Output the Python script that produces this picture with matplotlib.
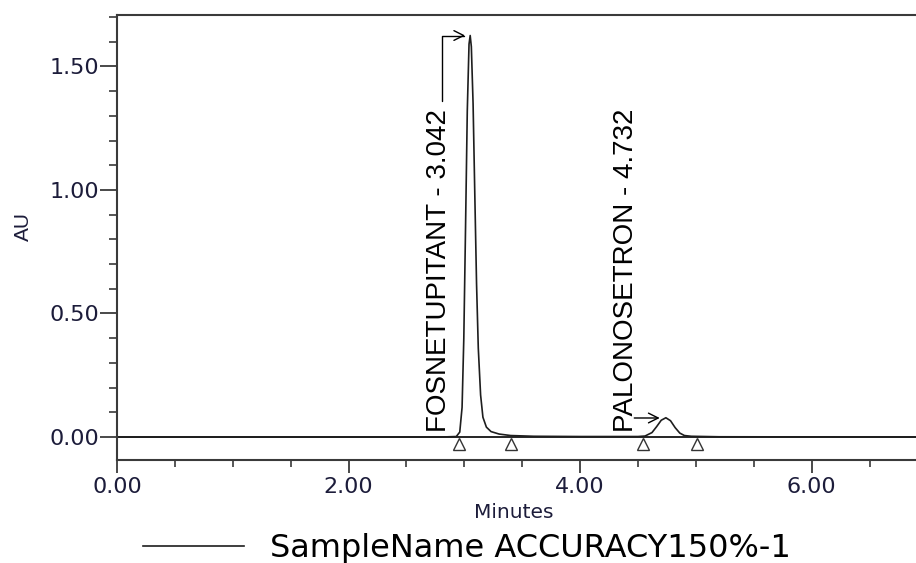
import numpy as np
import matplotlib
matplotlib.use('Agg')
import matplotlib.pyplot as plt
from matplotlib.ticker import MultipleLocator, FormatStrFormatter

# chromatogram trace (minutes, AU)
time_min = [0.00, 2.80, 2.93, 2.96, 2.98, 2.995, 3.01, 3.025, 3.04, 3.05, 3.06,
            3.075, 3.09, 3.105, 3.12, 3.14, 3.16, 3.19, 3.23, 3.30, 3.40, 3.60,
            4.00, 4.50, 4.56, 4.62, 4.66, 4.70, 4.74, 4.78, 4.82, 4.86, 4.90,
            4.96, 5.20, 6.90]
au = [0.000, 0.000, 0.002, 0.020, 0.120, 0.400, 0.850, 1.320, 1.590, 1.625, 1.580,
      1.350, 0.980, 0.620, 0.360, 0.170, 0.080, 0.040, 0.022, 0.012, 0.006, 0.003,
      0.002, 0.002, 0.004, 0.018, 0.042, 0.068, 0.078, 0.066, 0.038, 0.016, 0.006,
      0.003, 0.001, 0.000]

peak_names = ['FOSNETUPITANT', 'PALONOSETRON']
peak_rt = [3.042, 4.732]
peak_height = [1.625, 0.077]
# integration start/end marks
mark_times = [2.95, 3.40, 4.54, 5.01]

sample_name = 'SampleName ACCURACY150%-1'

fig = plt.figure(figsize=(9.16, 5.63), dpi=100)
ax = fig.add_axes([117 / 916, 1 - 460 / 563, 1 - 117 / 916, (460 - 15) / 563])

line, = ax.plot(time_min, au, color='#1e1e1e', lw=1.2, label=sample_name)
ax.axhline(0, color='black', lw=1.2, zorder=1)
ax.plot(mark_times, [-0.028] * len(mark_times), linestyle='none', marker='^',
        markersize=9, markerfacecolor='white', markeredgecolor='#333333', mew=1.0)

ax.set_xlim(0, 6.9)
ax.set_ylim(-0.093, 1.708)

# peak labels, rotated, with the connector line to the apex
lab_font = dict(family=['Liberation Sans', 'DejaVu Sans'], fontsize=20, color='black')
ax.text(peak_rt[0] - 0.265, 0.02, f'{peak_names[0]} - {peak_rt[0]:.3f}',
        rotation=90, ha='center', va='bottom', **lab_font)
ax.annotate('', xy=(peak_rt[0] - 0.035, peak_height[0]),
            xytext=(peak_rt[0] - 0.235, 1.36),
            arrowprops=dict(arrowstyle='->,head_length=0.7,head_width=0.35',
                            connectionstyle='angle,angleA=90,angleB=0,rad=0',
                            color='black', lw=1.0, shrinkA=0, shrinkB=0))
ax.text(peak_rt[1] - 0.34, 0.02, f'{peak_names[1]} - {peak_rt[1]:.3f}',
        rotation=90, ha='center', va='bottom', **lab_font)
ax.annotate('', xy=(peak_rt[1] - 0.045, peak_height[1]),
            xytext=(peak_rt[1] - 0.265, peak_height[1]),
            arrowprops=dict(arrowstyle='->,head_length=0.7,head_width=0.35',
                            color='black', lw=1.0, shrinkA=0, shrinkB=0))

# axes look
for s in ['left', 'top', 'bottom']:
    ax.spines[s].set_color('#3a3a3a')
    ax.spines[s].set_linewidth(1.5)
ax.spines['right'].set_visible(False)

ax.xaxis.set_major_locator(MultipleLocator(2))
ax.xaxis.set_minor_locator(MultipleLocator(0.5))
ax.yaxis.set_major_locator(MultipleLocator(0.5))
ax.yaxis.set_minor_locator(MultipleLocator(0.1))
ax.xaxis.set_major_formatter(FormatStrFormatter('%.2f'))
ax.yaxis.set_major_formatter(FormatStrFormatter('%.2f'))

tick_col = '#1c1c3a'
ax.tick_params(axis='x', which='major', direction='out', length=9.5, width=1.3,
               color='#3a3a3a', labelsize=16, labelcolor=tick_col, pad=3)
ax.tick_params(axis='x', which='minor', direction='out', length=5, width=1.2, color='#3a3a3a')
ax.tick_params(axis='y', which='major', direction='out', length=12, width=1.3,
               color='#3a3a3a', labelsize=16, labelcolor=tick_col, pad=1)
ax.tick_params(axis='y', which='minor', direction='out', length=6, width=1.2, color='#3a3a3a')
for lbl in ax.get_xticklabels() + ax.get_yticklabels():
    lbl.set_family('DejaVu Sans')

fig.text(514 / 916, 1 - 512 / 563, 'Minutes', ha='center', va='center',
         fontsize=14.5, color='#1c1c3a', family='DejaVu Sans')
fig.text(23 / 916, 1 - 227 / 563, 'AU', ha='center', va='center', rotation=90,
         fontsize=15, color='#1c1c3a', family='Liberation Sans')

ax.legend(handles=[line], loc='center left', bbox_to_anchor=(143 / 916, 1 - 549 / 563),
          bbox_transform=fig.transFigure, frameon=False, borderpad=0, borderaxespad=0,
          handlelength=3.16, handletextpad=0.8,
          prop=dict(family='DejaVu Sans', size=23))

fig.savefig('out.png', dpi=100)
